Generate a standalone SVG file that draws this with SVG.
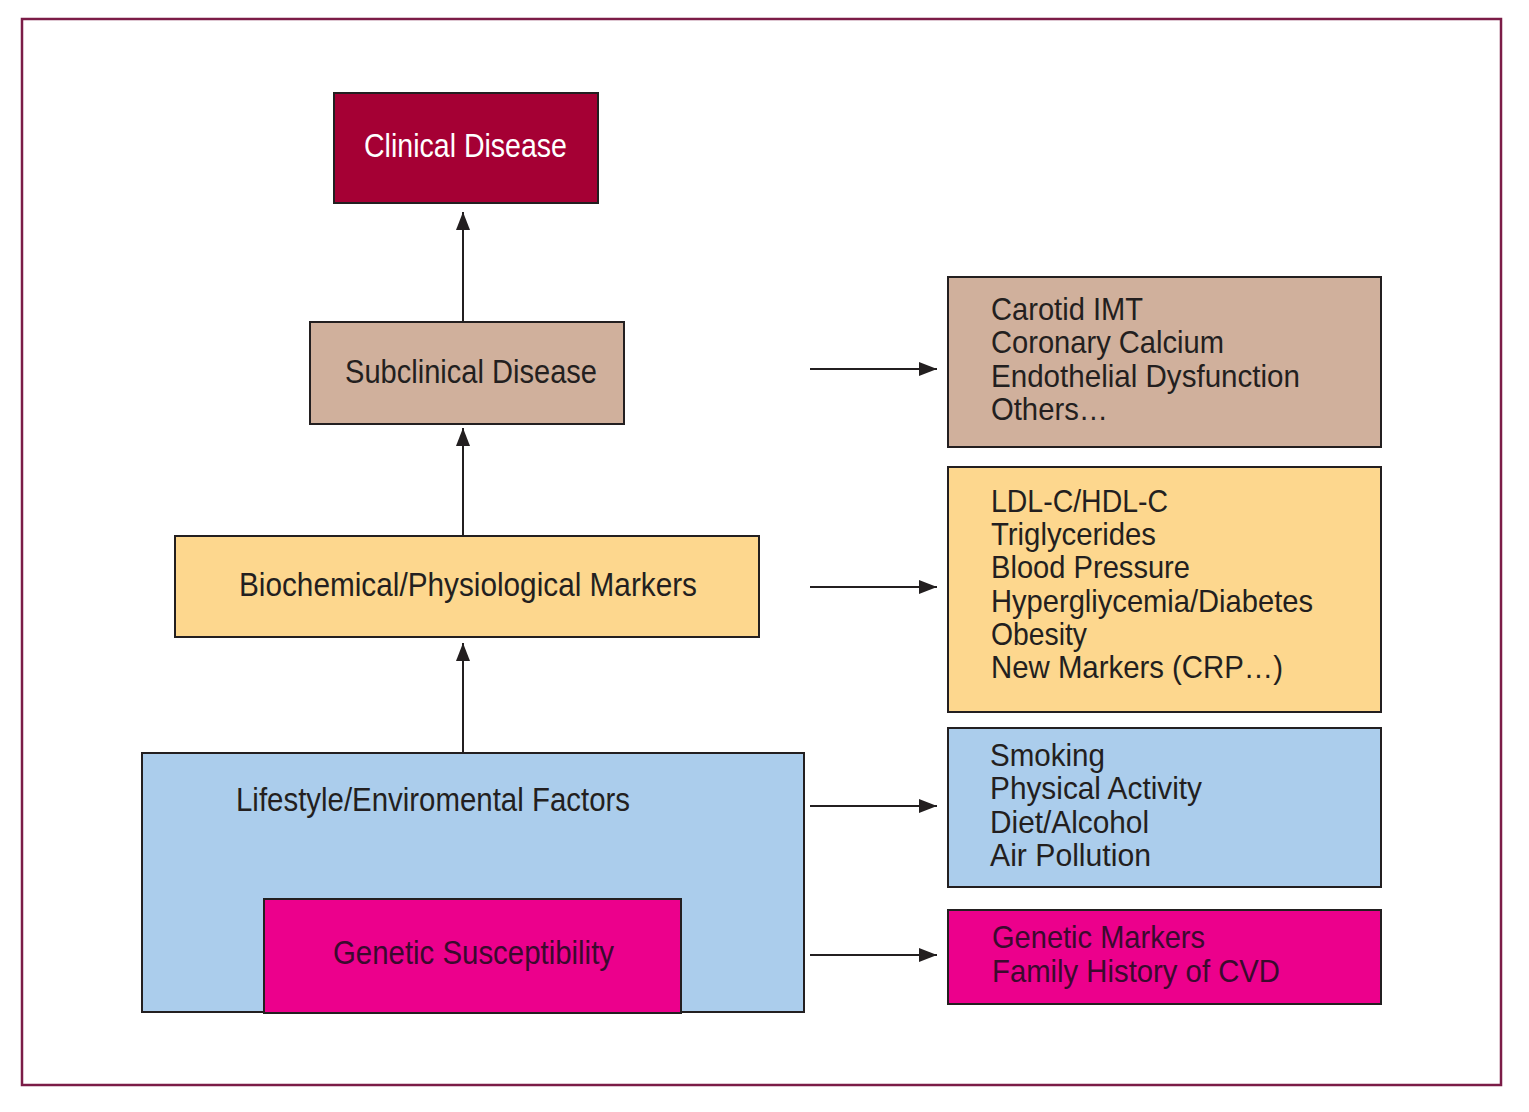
<svg xmlns="http://www.w3.org/2000/svg" width="1529" height="1112" viewBox="0 0 1529 1112">
<style>
.box{stroke:#231f20;stroke-width:2}
.lbl{font-family:"Liberation Sans",Arial,sans-serif;font-size:34px;fill:#231f20}
.lst{font-family:"Liberation Sans",Arial,sans-serif;font-size:32px;fill:#231f20}
.conn{stroke:#231f20;stroke-width:2;fill:none;marker-end:url(#ah)}
.clin{fill:#a50034}.sub{fill:#d0b09c}.bio{fill:#fdd78e}.life{fill:#abcdec}.gen{fill:#ec008c}
</style>
<defs>
<marker id="ah" markerUnits="userSpaceOnUse" markerWidth="20" markerHeight="14" refX="18" refY="7" orient="auto">
<path d="M0,0 L18,7 L0,14 Z" fill="#231f20"/>
</marker>
</defs>
<rect width="1529" height="1112" fill="#ffffff"/>
<rect x="22" y="19" width="1479" height="1066" fill="none" stroke="#7b1c47" stroke-width="2.5"/>

<g id="clinical">
<rect class="box clin" x="334" y="93" width="264" height="110"/>
<text class="lbl" x="364" y="157" textLength="203" lengthAdjust="spacingAndGlyphs" style="fill:#ffffff">Clinical Disease</text>
</g>
<g id="subclinical">
<rect class="box sub" x="310" y="322" width="314" height="102"/>
<text class="lbl" x="345" y="383" textLength="252" lengthAdjust="spacingAndGlyphs">Subclinical Disease</text>
</g>
<g id="biochemical">
<rect class="box bio" x="175" y="536" width="584" height="101"/>
<text class="lbl" x="239" y="596" textLength="458" lengthAdjust="spacingAndGlyphs">Biochemical/Physiological Markers</text>
</g>
<g id="lifestyle">
<rect class="box life" x="142" y="753" width="662" height="259"/>
<text class="lbl" x="236" y="811" textLength="394" lengthAdjust="spacingAndGlyphs">Lifestyle/Enviromental Factors</text>
</g>
<g id="genetic">
<rect class="box gen" x="264" y="899" width="417" height="114"/>
<text class="lbl" x="333" y="964" textLength="281" lengthAdjust="spacingAndGlyphs" style="fill:#3a0a2e">Genetic Susceptibility</text>
</g>

<g id="subclinical-markers">
<rect class="box sub" x="948" y="277" width="433" height="170"/>
<text class="lst" x="991" y="320" textLength="152" lengthAdjust="spacingAndGlyphs">Carotid IMT</text>
<text class="lst" x="991" y="353" textLength="233" lengthAdjust="spacingAndGlyphs">Coronary Calcium</text>
<text class="lst" x="991" y="387" textLength="309" lengthAdjust="spacingAndGlyphs">Endothelial Dysfunction</text>
<text class="lst" x="991" y="420" textLength="117" lengthAdjust="spacingAndGlyphs">Others…</text>
</g>
<g id="biochemical-markers">
<rect class="box bio" x="948" y="467" width="433" height="245"/>
<text class="lst" x="991" y="512" textLength="177" lengthAdjust="spacingAndGlyphs">LDL-C/HDL-C</text>
<text class="lst" x="991" y="545" textLength="165" lengthAdjust="spacingAndGlyphs">Triglycerides</text>
<text class="lst" x="991" y="578" textLength="199" lengthAdjust="spacingAndGlyphs">Blood Pressure</text>
<text class="lst" x="991" y="612" textLength="322" lengthAdjust="spacingAndGlyphs">Hypergliycemia/Diabetes</text>
<text class="lst" x="991" y="645" textLength="96" lengthAdjust="spacingAndGlyphs">Obesity</text>
<text class="lst" x="991" y="678" textLength="292" lengthAdjust="spacingAndGlyphs">New Markers (CRP…)</text>
</g>
<g id="lifestyle-factors">
<rect class="box life" x="948" y="728" width="433" height="159"/>
<text class="lst" x="990" y="766" textLength="115" lengthAdjust="spacingAndGlyphs">Smoking</text>
<text class="lst" x="990" y="799" textLength="212" lengthAdjust="spacingAndGlyphs">Physical Activity</text>
<text class="lst" x="990" y="833" textLength="159" lengthAdjust="spacingAndGlyphs">Diet/Alcohol</text>
<text class="lst" x="990" y="866" textLength="161" lengthAdjust="spacingAndGlyphs">Air Pollution</text>
</g>
<g id="genetic-markers">
<rect class="box gen" x="948" y="910" width="433" height="94"/>
<text class="lst" x="992" y="948" textLength="213" lengthAdjust="spacingAndGlyphs" style="fill:#3a0a2e">Genetic Markers</text>
<text class="lst" x="992" y="982" textLength="288" lengthAdjust="spacingAndGlyphs" style="fill:#3a0a2e">Family History of CVD</text>
</g>

<g id="connectors">
<line class="conn" x1="463" y1="321" x2="463" y2="212"/>
<line class="conn" x1="463" y1="535" x2="463" y2="428"/>
<line class="conn" x1="463" y1="752" x2="463" y2="643"/>
<line class="conn" x1="810" y1="369" x2="937" y2="369"/>
<line class="conn" x1="810" y1="587" x2="937" y2="587"/>
<line class="conn" x1="810" y1="806" x2="937" y2="806"/>
<line class="conn" x1="810" y1="955" x2="937" y2="955"/>
</g>
</svg>
